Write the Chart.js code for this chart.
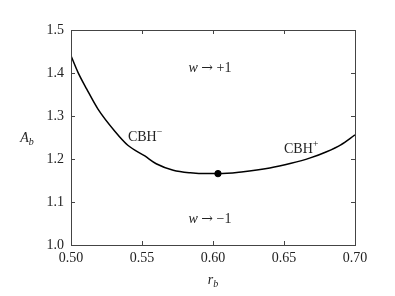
<!DOCTYPE html>
<html>
<head>
<meta charset="utf-8">
<script src="https://cdn.jsdelivr.net/npm/chart.js@4"></script>
<style>
  html, body { margin: 0; padding: 0; background: #fff; }
  #wrap { width: 395px; height: 296px; }
</style>
</head>
<body>
<div id="wrap"><canvas id="chart"></canvas></div>
<script>
// boundary curve A_b(r_b)
const rValues = [0.500, 0.505, 0.511, 0.519, 0.531, 0.540, 0.552, 0.560, 0.572, 0.584,
                 0.596, 0.604, 0.620, 0.640, 0.655, 0.668, 0.680, 0.690, 0.700];
const aValues = [1.440, 1.401, 1.363, 1.316, 1.264, 1.232, 1.207, 1.189, 1.174, 1.168,
                 1.166, 1.166, 1.170, 1.179, 1.190, 1.202, 1.217, 1.233, 1.256];

// marked point
const dotR = [0.6035];
const dotA = [1.166];

const xMin = 0.50, xMax = 0.70, xStep = 0.05;
const yMin = 1.0, yMax = 1.5, yStep = 0.1;

const serif = "'Liberation Serif', 'DejaVu Serif', serif";
const ink = '#222';
const frameColor = '#444';

// text runs: [text, style] where style is 'i' italic, 'n' normal, 'a' arrow, 'sup' superscript
const notes = [
  { x: 0.5979, y: 1.411, align: 'center', runs: [['w', 'i'], [' ', 'n'], ['\u2192', 'a'], [' +1', 'n']] },
  { x: 0.5979, y: 1.0586, align: 'center', runs: [['w', 'i'], [' ', 'n'], ['\u2192', 'a'], [' \u22121', 'n']] },
  { x: 0.5401, y: 1.251, align: 'left', runs: [['CBH', 'n'], ['\u2212', 'sup']] },
  { x: 0.6500, y: 1.223, align: 'left', runs: [['CBH', 'n'], ['+', 'sup']] }
];

function fontFor(style) {
  if (style === 'i') return 'italic 14px ' + serif;
  if (style === 'a') return "14px 'DejaVu Serif', serif";
  if (style === 'sup') return '10px ' + serif;
  if (style === 'sub') return 'italic 10px ' + serif;
  return '14px ' + serif;
}

function drawRuns(ctx, runs, x, y, align) {
  let total = 0;
  runs.forEach(r => { ctx.font = fontFor(r[1]); total += ctx.measureText(r[0]).width; });
  let cx = align === 'center' ? x - total / 2 : x;
  ctx.textBaseline = 'middle';
  ctx.textAlign = 'left';
  runs.forEach(r => {
    ctx.font = fontFor(r[1]);
    let dy = 0;
    if (r[1] === 'sup') dy = -5;
    if (r[1] === 'sub') dy = 4;
    ctx.fillText(r[0], cx, y + dy);
    cx += ctx.measureText(r[0]).width;
  });
}

const framePlugin = {
  id: 'frame',
  afterDraw(chart) {
    const { ctx, chartArea: a, scales } = chart;
    const xs = scales.x, ys = scales.y;
    ctx.save();
    ctx.strokeStyle = frameColor;
    ctx.lineWidth = 1;
    ctx.strokeRect(Math.round(a.left) + 0.5, Math.round(a.top) + 0.5,
                   Math.round(a.right - a.left), Math.round(a.bottom - a.top));

    // inward ticks on all four sides
    const len = 4;
    ctx.beginPath();
    xs.ticks.forEach(t => {
      const px = Math.round(xs.getPixelForValue(t.value)) + 0.5;
      ctx.moveTo(px, a.bottom); ctx.lineTo(px, a.bottom - len);
      ctx.moveTo(px, a.top); ctx.lineTo(px, a.top + len);
    });
    ys.ticks.forEach(t => {
      const py = Math.round(ys.getPixelForValue(t.value)) + 0.5;
      ctx.moveTo(a.left, py); ctx.lineTo(a.left + len, py);
      ctx.moveTo(a.right, py); ctx.lineTo(a.right - len, py);
    });
    ctx.stroke();

    ctx.fillStyle = ink;
    notes.forEach(n => {
      drawRuns(ctx, n.runs, xs.getPixelForValue(n.x), ys.getPixelForValue(n.y), n.align);
    });

    // axis titles
    drawRuns(ctx, [['A', 'i'], ['b', 'sub']], a.left - 44, (a.top + a.bottom) / 2 + 1, 'center');
    drawRuns(ctx, [['r', 'i'], ['b', 'sub']], (a.left + a.right) / 2, a.bottom + 35, 'center');
    ctx.restore();
  }
};

const curve = rValues.map((r, i) => ({ x: r, y: aValues[i] }));
const dot = dotR.map((r, i) => ({ x: r, y: dotA[i] }));

new Chart(document.getElementById('chart'), {
  type: 'line',
  data: {
    datasets: [
      {
        label: 'boundary',
        data: curve,
        borderColor: '#000',
        borderWidth: 1.5,
        pointRadius: 0,
        cubicInterpolationMode: 'monotone',
        fill: false
      },
      {
        label: 'point',
        data: dot,
        showLine: false,
        pointRadius: 3.2,
        pointBackgroundColor: '#000',
        pointBorderColor: '#000'
      }
    ]
  },
  options: {
    responsive: true,
    maintainAspectRatio: false,
    animation: false,
    layout: { padding: { top: 30, right: 40, left: 0, bottom: 0 } },
    plugins: { legend: { display: false }, tooltip: { enabled: false } },
    scales: {
      x: {
        type: 'linear',
        min: xMin,
        max: xMax,
        grid: { display: false, drawTicks: false },
        border: { display: false },
        ticks: {
          stepSize: xStep,
          padding: 5,
          color: ink,
          font: { family: serif, size: 14 },
          maxRotation: 0,
          callback: v => Number(v).toFixed(2)
        },
        afterFit: s => { s.height = 51; }
      },
      y: {
        type: 'linear',
        min: yMin,
        max: yMax,
        grid: { display: false, drawTicks: false },
        border: { display: false },
        ticks: {
          stepSize: yStep,
          padding: 7,
          color: ink,
          font: { family: serif, size: 14 },
          callback: v => Number(v).toFixed(1)
        },
        afterFit: s => { s.width = 71; }
      }
    }
  },
  plugins: [framePlugin]
});
</script>
</body>
</html>
